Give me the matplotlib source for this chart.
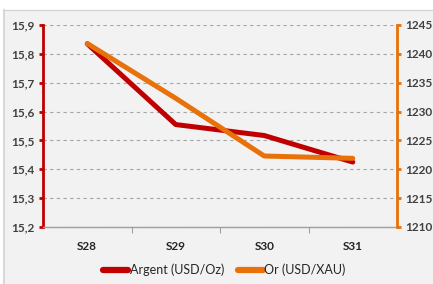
import matplotlib
matplotlib.use("Agg")
import matplotlib.pyplot as plt
from matplotlib.patches import Rectangle
from matplotlib.lines import Line2D

categories = ["S28", "S29", "S30", "S31"]
argent = [15.835, 15.555, 15.517, 15.425]
gold = [1241.8, 1232.3, 1222.3, 1221.9]
left_ticks = [15.2, 15.3, 15.4, 15.5, 15.6, 15.7, 15.8, 15.9]
left_labels = ["15,2", "15,3", "15,4", "15,5", "15,6", "15,7", "15,8", "15,9"]
right_ticks = [1210, 1215, 1220, 1225, 1230, 1235, 1240, 1245]

RED = "#c00000"
ORANGE = "#e8710a"
TXT = "#404040"

plt.rcParams['font.family'] = ['Lato', 'DejaVu Sans']

fig = plt.figure(figsize=(4.33, 2.84), dpi=100)
fig.patch.set_facecolor("white")
# chart area background
bg = Rectangle((4/433, 0), 1 - 4/433, 1 - 10/284, transform=fig.transFigure,
               facecolor="#f2f2f2", edgecolor="none", zorder=-10)
fig.patches.append(bg)
fig.add_artist(Line2D([4/433, 1], [1 - 10/284, 1 - 10/284], transform=fig.transFigure,
                      color="#d0d0d0", lw=0.8, zorder=-9))
fig.add_artist(Line2D([4/433, 4/433], [0, 1 - 10/284], transform=fig.transFigure,
                      color="#d8d8d8", lw=1.5, zorder=-9))

ax = fig.add_axes([43/433, 57/284, 354/433, 202/284])
ax.set_facecolor("none")
x = list(range(len(categories)))
ax.set_xlim(-0.5, len(categories) - 0.5)
ax.set_ylim(15.2, 15.9)
ax.set_yticks(left_ticks)
ax.set_yticklabels(left_labels, fontweight="bold")
ax.grid(axis="y", linestyle=(0, (3, 3)), color="#a6a6a6", lw=0.8)
ax.set_axisbelow(True)

ax2 = ax.twinx()
ax2.set_ylim(1210, 1245)
ax2.set_yticks(right_ticks)
ax2.set_yticklabels([str(v) for v in right_ticks], fontweight="bold")

l1, = ax.plot(x, argent, color=RED, lw=3.6, solid_capstyle="round", zorder=3,
              label="Argent (USD/Oz)")
l2, = ax2.plot(x, gold, color=ORANGE, lw=3.6, solid_capstyle="round", zorder=4,
               label="Or (USD/XAU)")

ax.set_xticks([i + 0.5 for i in x[:-1]], minor=False)
ax.set_xticklabels([])
ax.set_xticks(x, minor=True)
ax.set_xticklabels(categories, minor=True, fontsize=8.5, fontweight="bold", color="#262626")
ax.tick_params(axis="x", which="major", length=4, color="#a0a0a0", direction="out")
ax.tick_params(axis="x", which="minor", length=0, pad=10)

for a in (ax, ax2):
    for s in a.spines.values():
        s.set_visible(False)

ax.spines["bottom"].set_visible(True)
ax.spines["bottom"].set_color("#a0a0a0")
ax.spines["bottom"].set_linewidth(1)
ax.spines["left"].set_visible(True)
ax.spines["left"].set_color(RED)
ax.spines["left"].set_linewidth(2)
ax2.spines["right"].set_visible(True)
ax2.spines["right"].set_color(ORANGE)
ax2.spines["right"].set_linewidth(2)

ax.tick_params(axis="y", length=3, width=2, color=RED, labelsize=8.5, labelcolor=TXT, pad=3)
ax2.tick_params(axis="y", length=3, width=2, color=ORANGE, labelsize=8.5, labelcolor=TXT, pad=3)

leg = fig.legend(handles=[l1, l2], loc="center", bbox_to_anchor=(0.518, 1 - 270/284),
                 ncol=2, frameon=False, fontsize=9, handlelength=2.0, handletextpad=0.1,
                 columnspacing=1.1, labelcolor="#262626")
for h in leg.legend_handles:
    h.set_linewidth(4.5)
    h.set_solid_capstyle("round")

fig.savefig("out.png", dpi=100, facecolor=fig.get_facecolor())
